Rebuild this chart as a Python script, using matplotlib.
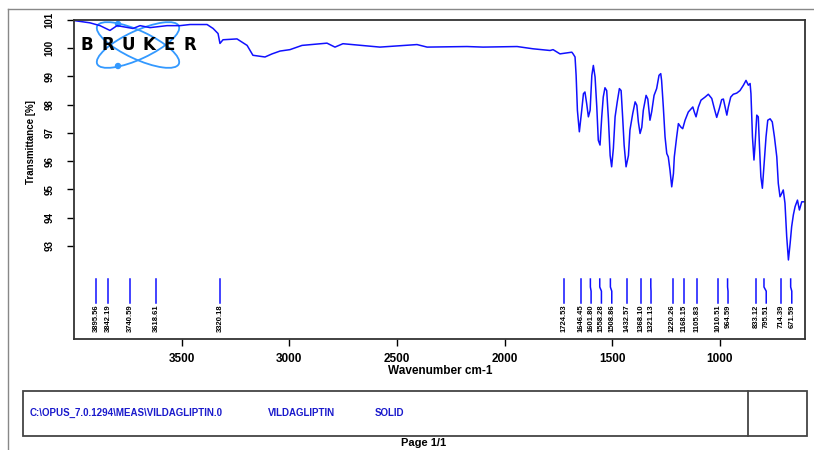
import matplotlib
matplotlib.use("Agg")
import matplotlib.pyplot as plt
from matplotlib.patches import Ellipse, Rectangle, Circle

plt.rcParams['font.family'] = ['Liberation Sans', 'DejaVu Sans']

# IR spectrum
wavenumber = [4000, 3926, 3879, 3833, 3800, 3726, 3693, 3647, 3568, 3508, 3461, 3382,
              3354, 3331, 3322, 3308, 3243, 3196, 3169, 3113, 3080, 3043, 2997, 2941,
              2825, 2788, 2751, 2579, 2407, 2360, 2175, 2100, 1942, 1868, 1789, 1775,
              1743, 1688, 1682, 1673, 1668, 1662, 1653, 1642, 1634, 1627, 1619, 1611,
              1603, 1595, 1588, 1580, 1572, 1565, 1557, 1549, 1542, 1534, 1526, 1518,
              1510, 1503, 1495, 1487, 1477, 1467, 1459, 1452, 1445, 1436, 1425, 1418,
              1405, 1394, 1386, 1379, 1371, 1363, 1356, 1343, 1335, 1325, 1317, 1306,
              1294, 1283, 1275, 1271, 1263, 1255, 1247, 1240, 1232, 1224, 1216, 1212,
              1201, 1193, 1182, 1173, 1162, 1147, 1126, 1119, 1111, 1100, 1088, 1069,
              1054, 1038, 1026, 1015, 1003, 992, 984, 976, 968, 961, 950, 938, 922, 907,
              891, 879, 868, 860, 856, 849, 842, 837, 829, 822, 817, 810, 803, 795, 786,
              778, 767, 757, 747, 736, 729, 721, 713, 706, 698, 690, 682, 674, 667, 659,
              651, 640, 631, 620, 604]
transmittance = [100.98, 100.9, 100.8, 100.63, 100.8, 100.7, 100.8, 100.73, 100.8, 100.8,
                 100.84, 100.84, 100.7, 100.52, 100.17, 100.3, 100.33, 100.1, 99.75, 99.69,
                 99.8, 99.9, 99.95, 100.1, 100.18, 100.04, 100.16, 100.04, 100.13, 100.04,
                 100.06, 100.04, 100.06, 99.98, 99.92, 99.95, 99.8, 99.86, 99.8, 99.69,
                 99.04, 97.8, 97.04, 97.8, 98.39, 98.45, 98.04, 97.57, 97.8, 99.04, 99.39,
                 98.98, 97.92, 96.74, 96.57, 97.57, 98.27, 98.6, 98.5, 97.5, 96.2, 95.8,
                 96.45, 97.57, 98.1, 98.57, 98.5, 97.57, 96.57, 95.8, 96.2, 97.1, 97.69,
                 98.1, 97.98, 97.39, 96.98, 97.2, 97.8, 98.33, 98.2, 97.45, 97.75, 98.33,
                 98.57, 99.04, 99.1, 98.86, 97.92, 96.86, 96.27, 96.15, 95.68, 95.09,
                 95.56, 96.15, 96.86, 97.33, 97.21, 97.15, 97.45, 97.74, 97.92, 97.74,
                 97.57, 97.92, 98.16, 98.27, 98.37, 98.22, 97.86, 97.55, 97.86, 98.18,
                 98.2, 97.92, 97.63, 97.92, 98.27, 98.37, 98.41, 98.5, 98.69, 98.86, 98.69,
                 98.75, 98.39, 96.86, 96.04, 96.57, 97.63, 97.57, 96.63, 95.45, 95.04,
                 95.92, 96.86, 97.45, 97.5, 97.39, 96.86, 96.15, 95.21, 94.74, 94.86,
                 94.98, 94.51, 93.33, 92.5, 93.09, 93.68, 94.1, 94.39, 94.62, 94.27,
                 94.56, 94.56]

# picked peaks
peaks = [3895.56, 3842.19, 3740.59, 3618.61, 3320.18, 1724.53, 1646.45, 1601.80,
         1558.28, 1508.86, 1432.57, 1368.10, 1321.13, 1220.26, 1168.15, 1105.83,
         1010.51, 964.59, 833.12, 795.51, 714.39, 671.59]

xticks = [3500, 3000, 2500, 2000, 1500, 1000]
yticks = [93, 94, 95, 96, 97, 98, 99, 100, 101]

fig = plt.figure(figsize=(8.14, 4.5), dpi=100, facecolor='white')

# page decorations in pixel coordinates
ax0 = fig.add_axes([0, 0, 1, 1])
ax0.set_xlim(0, 814)
ax0.set_ylim(450, 0)
ax0.axis('off')
ax0.plot([8, 814], [9, 9], color='#888888', lw=1)
ax0.plot([8, 8], [9, 450], color='#888888', lw=1)
ax0.add_patch(Rectangle((23, 391), 784, 45, fill=False, ec='#444444', lw=1.3))
ax0.plot([748, 748], [391, 436], color='#444444', lw=1.3)
ax0.text(30, 413, r'C:\OPUS_7.0.1294\MEAS\VILDAGLIPTIN.0', color='#1a1acc',
         fontsize=7, fontweight='bold', va='center')
ax0.text(268, 413, 'VILDAGLIPTIN', color='#1a1acc', fontsize=7, fontweight='bold', va='center')
ax0.text(375, 413, 'SOLID', color='#1a1acc', fontsize=7, fontweight='bold', va='center')
ax0.text(424, 443.5, 'Page 1/1', fontsize=8, fontweight='bold', ha='center', va='center')
ax0.text(440, 371, 'Wavenumber cm-1', fontsize=8.5, fontweight='bold', ha='center', va='center')
ax0.text(31, 142, 'Transmittance [%]', fontsize=7, fontweight='bold',
         rotation=90, ha='center', va='center')

# Bruker logo
logo_blue = '#3399ff'
ax0.add_patch(Ellipse((138, 45), 90, 28, angle=25, fill=False, ec=logo_blue, lw=1.3, zorder=3))
ax0.add_patch(Ellipse((138, 45), 90, 28, angle=-25, fill=False, ec=logo_blue, lw=1.3, zorder=3))
ax0.add_patch(Circle((118, 24), 2.5, color=logo_blue, zorder=3))
ax0.add_patch(Circle((118, 66), 2.5, color=logo_blue, zorder=3))
for i, ch in enumerate('BRUKER'):
    ax0.text(87 + i * 20.5, 45, ch, fontsize=12, fontweight='heavy', family='DejaVu Sans',
             ha='center', va='center', zorder=4)

# spectrum
ax = fig.add_axes([74 / 814, 111 / 450, 731 / 814, 319 / 450])
ax.set_zorder(2)
ax.patch.set_alpha(0)
ax.plot(wavenumber, transmittance, color='#1010ff', lw=1.1)
ax.set_xlim(4000, 605)
ax.set_ylim(89.7, 101)
ax.set_xticks(xticks)
ax.set_yticks(yticks)
ax.set_xticklabels([str(v) for v in xticks], fontsize=8.5, fontweight='bold')
ax.set_yticklabels([str(v) for v in yticks], fontsize=7, fontweight='bold',
                   rotation=90, va='center')
ax.tick_params(axis='x', length=5, width=1, pad=5)
ax.tick_params(axis='y', length=5, width=1, pad=9)
for s in ax.spines.values():
    s.set_color('#333333')
    s.set_linewidth(1.3)

# peak markers, labels spread apart where they would overlap
trans = ax.get_xaxis_transform()
label_pos = []
for p in peaks:
    if label_pos and label_pos[-1] - p < 48:
        label_pos.append(label_pos[-1] - 48)
    else:
        label_pos.append(p)
for p, lp in zip(peaks, label_pos):
    ax.plot([p, p, lp, lp], [0.188, 0.163, 0.150, 0.113], color='#1010ff', lw=1.1,
            transform=trans, clip_on=False)
    ax.text(lp, 0.107, f'{p:.2f}', transform=trans, rotation=90, ha='center', va='top',
            fontsize=5.5, fontweight='bold')

fig.savefig('out.png', dpi=100)
